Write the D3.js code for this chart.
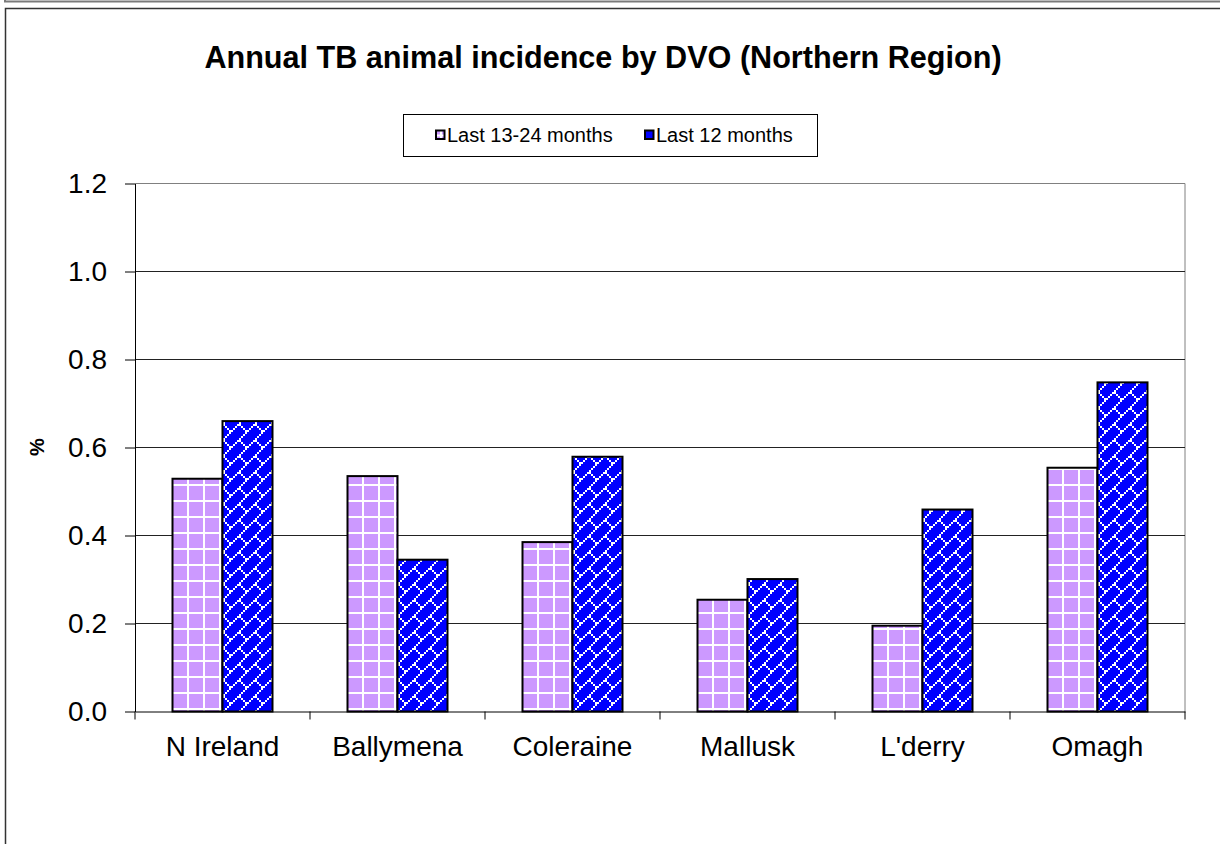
<!DOCTYPE html>
<html>
<head>
<meta charset="utf-8">
<script src="https://cdn.jsdelivr.net/npm/d3@7"></script>
<style>
  html, body { margin: 0; padding: 0; background: #fff; }
  svg { display: block; font-family: "Liberation Sans", Arial, sans-serif; }
</style>
</head>
<body>
<svg id="chart" width="1220" height="844"></svg>
<script>
// Annual TB animal incidence (%) per Divisional Veterinary Office
const categories = ["N Ireland", "Ballymena", "Coleraine", "Mallusk", "L'derry", "Omagh"];
const seriesNames = ["Last 13-24 months", "Last 12 months"];
const previousYear = [0.529, 0.535, 0.385, 0.254, 0.195, 0.554];
const currentYear = [0.660, 0.345, 0.579, 0.301, 0.459, 0.748];
const yTicks = [0, 0.2, 0.4, 0.6, 0.8, 1.0, 1.2];

const series = [previousYear, currentYear];
const fills = ["url(#gridPurple)", "url(#brickBlue)"];

const svg = d3.select("#chart");
const W = 1220, H = 844;
const plot = { left: 135, right: 1185, top: 183.5, bottom: 711.5 };

// Hatch patterns
const defs = svg.append("defs");
const grid = defs.append("pattern").attr("id", "gridPurple")
  .attr("patternUnits", "userSpaceOnUse").attr("width", 16).attr("height", 16);
grid.append("rect").attr("width", 16).attr("height", 16).attr("fill", "#CC99FF");
grid.append("rect").attr("x", 4).attr("y", 0).attr("width", 2).attr("height", 16).attr("fill", "#fff");
grid.append("rect").attr("x", 0).attr("y", 4).attr("width", 16).attr("height", 2).attr("fill", "#fff");

const brick = defs.append("pattern").attr("id", "brickBlue")
  .attr("patternUnits", "userSpaceOnUse").attr("width", 16).attr("height", 16);
brick.append("rect").attr("width", 16).attr("height", 16).attr("fill", "#0000FF");
const brickCells = [];
for (let i = 0; i < 8; i++) brickCells.push([2 * i, 14 - 2 * i]);
for (let i = 4; i < 8; i++) brickCells.push([2 * i, 2 * i]);
brick.selectAll("rect.c").data(brickCells).join("rect").attr("class", "c")
  .attr("x", d => d[0]).attr("y", d => d[1]).attr("width", 2).attr("height", 2).attr("fill", "#fff");

// Outer frame
svg.append("path").attr("d", `M5,-5V1.5H${W}`).attr("fill", "none").attr("stroke", "#7a7a7a").attr("stroke-width", 2);
svg.append("path").attr("d", `M${W + 5},8.5H5.5V${H + 5}`).attr("fill", "none").attr("stroke", "#333").attr("stroke-width", 1.5);

// Scales
const x = d3.scaleBand().domain(categories).range([plot.left, plot.right]).paddingInner(0).paddingOuter(0);
const y = d3.scaleLinear().domain([0, 1.2]).range([plot.bottom, plot.top]);
const barW = x.bandwidth() / 3.5;
const xs = d3.scaleBand().domain(d3.range(series.length))
  .range([barW * 0.75, barW * 0.75 + barW * series.length]).padding(0);

// Plot border (top and right) and gridlines
svg.append("path").attr("d", `M${plot.left},${plot.top}H${plot.right}V${plot.bottom}`)
  .attr("fill", "none").attr("stroke", "#808080").attr("stroke-width", 1);
svg.append("g").selectAll("line").data(yTicks.filter(t => t > 0 && t < 1.2)).join("line")
  .attr("x1", plot.left).attr("x2", plot.right)
  .attr("y1", d => y(d)).attr("y2", d => y(d))
  .attr("stroke", "#222").attr("stroke-width", 1);

// Bars
const groups = svg.append("g").selectAll("g").data(categories).join("g")
  .attr("transform", d => `translate(${x(d)},0)`);
groups.selectAll("rect").data((c, ci) => series.map((s, si) => ({ si, v: s[ci] }))).join("rect")
  .attr("x", d => xs(d.si)).attr("width", xs.bandwidth())
  .attr("y", d => y(d.v)).attr("height", d => y(0) - y(d.v))
  .attr("fill", d => fills[d.si]).attr("stroke", "#000").attr("stroke-width", 2);

// Y axis
const yAxis = svg.append("g").attr("transform", `translate(${plot.left},0)`)
  .call(d3.axisLeft(y).tickValues(yTicks).tickFormat(d3.format(".1f")).tickSize(10).tickPadding(18).tickSizeOuter(0));
yAxis.select(".domain").attr("stroke", "#000");
yAxis.selectAll(".tick line").attr("stroke", "#000");
yAxis.selectAll("text").attr("font-size", 28).attr("fill", "#000")
  .attr("font-family", "'Liberation Sans', Arial, sans-serif");

// X axis: ticks on category boundaries, labels centred
const xAxis = svg.append("g").attr("transform", `translate(0,${plot.bottom})`)
  .call(d3.axisBottom(x).tickSize(0).tickPadding(25).tickSizeOuter(0));
xAxis.select(".domain").attr("stroke", "#000");
xAxis.selectAll("text").attr("font-size", 28).attr("fill", "#000")
  .attr("font-family", "'Liberation Sans', Arial, sans-serif");
const bounds = categories.map(c => x(c)).concat([x(categories[categories.length - 1]) + x.bandwidth()]);
xAxis.selectAll("line.bound").data(bounds).join("line").attr("class", "bound")
  .attr("x1", d => d).attr("x2", d => d).attr("y1", 0).attr("y2", 8)
  .attr("stroke", "#000");

// Axis title
svg.append("text").attr("transform", `translate(44,447) rotate(-90)`)
  .attr("text-anchor", "middle").attr("font-size", 20).attr("font-weight", "bold").text("%");

// Title
svg.append("text").attr("x", 603).attr("y", 68).attr("text-anchor", "middle")
  .attr("font-size", 30.6).attr("font-weight", "bold")
  .text("Annual TB animal incidence by DVO (Northern Region)");

// Legend
const legend = svg.append("g");
legend.append("rect").attr("x", 403.5).attr("y", 114.5).attr("width", 414).attr("height", 42)
  .attr("fill", "#fff").attr("stroke", "#000").attr("stroke-width", 1);
const legendX = [436, 645];
const items = legend.selectAll("g").data(seriesNames).join("g")
  .attr("transform", (d, i) => `translate(${legendX[i]},130.5)`);
items.append("rect").attr("width", 8.5).attr("height", 8.5)
  .attr("fill", (d, i) => fills[i]).attr("stroke", "#000").attr("stroke-width", 2);
items.append("text").attr("x", 11).attr("y", 11).attr("font-size", 20).text(d => d);
</script>
</body>
</html>
